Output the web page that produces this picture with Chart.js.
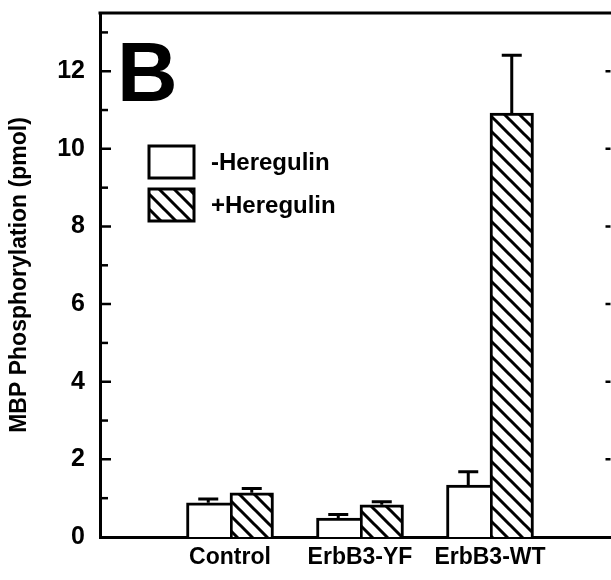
<!DOCTYPE html>
<html>
<head>
<meta charset="utf-8">
<script src="https://cdn.jsdelivr.net/npm/chart.js@4"></script>
<style>
  html, body { margin: 0; padding: 0; overflow: hidden; background: #fff; }
  #wrap { width: 620px; height: 580px; }
</style>
</head>
<body>
<div id="wrap"><canvas id="myChart"></canvas></div>
<script>
// category names and measured values (pmol)
var categories = ['Control', 'ErbB3-YF', 'ErbB3-WT'];
var minusHeregulin = [0.88, 0.49, 1.34];
var minusErr = [0.10, 0.09, 0.34];
var plusHeregulin = [1.14, 0.83, 10.92];
var plusErr = [0.11, 0.08, 1.49];
var yTicks = [0, 2, 4, 6, 8, 10, 12];

var FONT = "'Liberation Sans', Arial, sans-serif";

// diagonal hatch fill, like the original figure
function hatch() {
  var c = document.createElement('canvas');
  c.width = 15; c.height = 15;
  var g = c.getContext('2d');
  g.fillStyle = '#fff';
  g.fillRect(0, 0, 15, 15);
  g.strokeStyle = '#000';
  g.lineWidth = 3;
  g.beginPath();
  g.moveTo(-3, -3); g.lineTo(18, 18);
  g.moveTo(-3, 12); g.lineTo(3, 18);
  g.moveTo(12, -3); g.lineTo(18, 3);
  g.stroke();
  return g.createPattern(c, 'repeat');
}
var hatchFill = hatch();

function toPoints(vals) {
  return vals.map(function (v, i) { return { x: i + 1, y: v }; });
}

// error bars, frame top line, inward ticks, legend and panel letter
var extras = {
  id: 'extras',
  afterDatasetsDraw: function (chart) {
    var ctx = chart.ctx;
    var y = chart.scales.y;
    var a = chart.chartArea;
    ctx.save();
    ctx.strokeStyle = '#000';
    ctx.lineWidth = 3;
    chart.data.datasets.forEach(function (ds, di) {
      var meta = chart.getDatasetMeta(di);
      meta.data.forEach(function (bar, i) {
        var top = y.getPixelForValue(ds.data[i].y + ds.errors[i]);
        ctx.beginPath();
        ctx.moveTo(bar.x, bar.y);
        ctx.lineTo(bar.x, top);
        ctx.moveTo(bar.x - 10, top);
        ctx.lineTo(bar.x + 10, top);
        ctx.stroke();
      });
    });
    // top frame
    ctx.beginPath();
    ctx.moveTo(a.left - 1.5, a.top);
    ctx.lineTo(a.right + 2, a.top);
    ctx.stroke();
    // ticks every unit on the left, every 2 on the right
    ctx.lineWidth = 2.5;
    for (var v = 1; v <= Math.floor(y.max); v++) {
      var py = y.getPixelForValue(v);
      ctx.beginPath();
      ctx.moveTo(a.left, py);
      ctx.lineTo(a.left + (v % 2 === 0 ? 11 : 8), py);
      if (v % 2 === 0) {
        ctx.moveTo(a.right - 8, py);
        ctx.lineTo(a.right - 3, py);
      }
      ctx.stroke();
    }
    // legend
    ctx.lineWidth = 3;
    ctx.font = 'bold 24px ' + FONT;
    ctx.textBaseline = 'middle';
    ctx.fillStyle = '#000';
    chart.data.datasets.forEach(function (ds, di) {
      var bx = 149, by = 146 + di * 43;
      ctx.fillStyle = ds.backgroundColor;
      ctx.fillRect(bx, by, 45, 32);
      ctx.strokeRect(bx, by, 45, 32);
      ctx.fillStyle = '#000';
      ctx.fillText(ds.label, 211, by + 17);
    });
    // panel letter
    ctx.font = 'bold 84px ' + FONT;
    ctx.textBaseline = 'alphabetic';
    ctx.fillText('B', 117, 101);
    ctx.restore();
  }
};

var ctx = document.getElementById('myChart').getContext('2d');

var myChart = new Chart(ctx, {
  type: 'bar',
  data: {
    datasets: [{
      label: '-Heregulin',
      data: toPoints(minusHeregulin),
      errors: minusErr,
      backgroundColor: '#fff',
      borderColor: '#000',
      borderWidth: { top: 3, left: 3, right: 0, bottom: 0 },
      barThickness: 43.5
    }, {
      label: '+Heregulin',
      data: toPoints(plusHeregulin),
      errors: plusErr,
      backgroundColor: hatchFill,
      borderColor: '#000',
      borderWidth: { top: 3, left: 3, right: 3, bottom: 0 },
      barThickness: 43.5
    }]
  },
  options: {
    responsive: true,
    maintainAspectRatio: false,
    animation: false,
    layout: { padding: { top: 13, right: 6.5, left: 0, bottom: 0 } },
    plugins: {
      legend: { display: false },
      tooltip: { enabled: false }
    },
    scales: {
      x: {
        type: 'linear',
        offset: false,
        min: 0,
        max: 3.95,
        grid: { display: false, drawTicks: false, offset: false },
        border: { display: true, color: '#000', width: 3 },
        afterFit: function (s) {
          s.height = 43;
          s.paddingLeft = 0;
          s.paddingRight = 0;
        },
        ticks: {
          stepSize: 1,
          includeBounds: false,
          padding: 7,
          color: '#000',
          font: { family: FONT, size: 23, weight: 'bold' },
          callback: function (v) { return categories[v - 1] || ''; }
        }
      },
      y: {
        min: 0,
        max: 13.5,
        grid: { display: false, drawTicks: false },
        border: { display: true, color: '#000', width: 3 },
        afterFit: function (s) {
          s.width = 100;
          s.paddingTop = 0;
          s.paddingBottom = 0;
        },
        afterBuildTicks: function (s) {
          s.ticks = yTicks.map(function (v) { return { value: v }; });
        },
        ticks: {
          padding: 15,
          color: '#000',
          font: { family: FONT, size: 25, weight: 'bold' }
        },
        title: {
          display: true,
          text: 'MBP Phosphorylation (pmol)',
          color: '#000',
          padding: { top: 6, bottom: 0 },
          font: { family: FONT, size: 23, weight: 'bold' }
        }
      }
    }
  },
  plugins: [extras]
});
</script>
</body>
</html>
